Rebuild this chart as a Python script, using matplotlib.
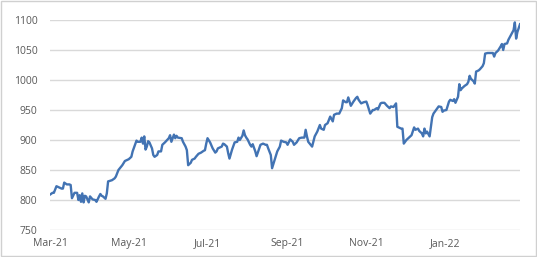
import matplotlib
matplotlib.use("Agg")
import matplotlib.pyplot as plt
import matplotlib.dates as mdates
import pandas as pd
from matplotlib.patches import Rectangle

start_date = "2021-03-01"
end_date = "2022-02-28"

day_offsets = [
    0, 2, 3, 5, 7, 9, 10, 11, 13, 15, 16, 17, 19, 21, 22, 23, 24, 25, 26, 27,
    28, 30, 31, 33, 35, 36, 38, 39, 40, 41, 43, 44, 45, 48, 50, 51, 53, 56, 58, 61,
    63, 64, 67, 68, 70, 71, 72, 73, 74, 75, 76, 77, 79, 80, 81, 83, 84, 86, 87, 89,
    92, 93, 94, 96, 97, 98, 99, 102, 103, 105, 106, 107, 109, 110, 112, 113, 115, 117, 119, 120,
    121, 122, 124, 126, 128, 129, 130, 133, 134, 135, 137, 138, 139, 141, 143, 145, 146, 147, 149, 150,
    151, 152, 153, 155, 156, 157, 159, 160, 162, 163, 165, 167,
    168, 169, 171, 172, 174, 176, 178, 179, 181, 183, 184, 186, 188, 189, 191, 193, 195, 197, 198, 199,
    200, 203, 205, 207, 209, 210, 212, 213, 215, 217, 219, 220, 222, 224, 226, 227, 229, 230, 231, 233,
    235, 237, 238, 239, 241, 243, 245, 246, 248, 250, 251, 253, 254, 256, 257, 259, 261, 263, 264, 266,
    268, 269, 272, 273, 274, 276, 278, 280, 282, 283, 285, 286, 288, 289, 290, 291, 292, 294, 296, 297,
    300, 301, 303, 304, 305, 307, 309, 310, 312, 313, 314, 316, 317, 318, 319, 321, 323, 324, 325, 326,
    328, 329, 330, 332, 333, 335, 336, 337, 339, 341, 343, 344, 345, 347, 349, 350, 351, 352, 354, 355,
    357, 359, 360, 361, 362, 364,
]

values = [
    809, 812, 812, 823, 821, 819, 819, 829, 826, 826, 825, 803, 812, 812, 800, 808, 797, 811, 796, 807,
    806, 796, 806, 801, 800, 797, 806, 810, 807, 806, 802, 811, 831, 833, 836, 839, 850, 858, 865, 868,
    872, 881, 899, 897, 897, 904, 894, 906, 884, 889, 898, 896, 886, 875, 872, 875, 881, 881, 892, 896,
    903, 908, 897, 909, 903, 907, 904, 903, 897, 889, 883, 858, 862, 867, 869, 872, 877, 879, 882, 883,
    894, 903, 896, 886, 879, 881, 886, 889, 894, 893, 889, 878, 869, 884, 896, 897, 904, 900, 907, 916,
    908, 904, 901, 892, 889, 893, 881, 873, 886, 892, 894, 892,
    892, 886, 875, 853, 867, 881, 889, 899, 897, 896, 892, 901, 897, 892, 896, 903, 904, 904, 917, 906,
    897, 889, 906, 914, 925, 919, 917, 925, 928, 939, 931, 942, 944, 944, 953, 966, 963, 963, 971, 957,
    964, 970, 972, 967, 961, 963, 964, 958, 944, 950, 950, 953, 951, 961, 962, 962, 957, 953, 956, 955,
    961, 922, 919, 919, 894, 900, 904, 908, 921, 917, 919, 915, 911, 906, 919, 911, 914, 906, 938, 944,
    953, 956, 955, 947, 949, 950, 964, 967, 965, 968, 962, 972, 993, 983, 986, 990, 993, 997, 1007, 1002,
    998, 994, 1014, 1016, 1018, 1023, 1028, 1044, 1045, 1045, 1045, 1039, 1045, 1049, 1056, 1060, 1050, 1060, 1061, 1067,
    1075, 1083, 1096, 1069, 1080, 1093,
]

y_ticks = [750, 800, 850, 900, 950, 1000, 1050, 1100]

dates = pd.Timestamp(start_date) + pd.to_timedelta(day_offsets, unit="D")

plt.rcParams['font.family'] = ['Open Sans', 'DejaVu Sans']

fig = plt.figure(figsize=(5.37, 2.57), dpi=100)
ax = fig.add_axes([50/537, 27/257, 470/537, 210/257])

ax.plot(dates, values, color='#4273b3', linewidth=1.7, solid_joinstyle='round')

ax.set_ylim(750, 1100)
ax.set_yticks(y_ticks)
ax.set_xlim(pd.Timestamp(start_date), pd.Timestamp(end_date))
ax.xaxis.set_major_locator(mdates.MonthLocator(bymonth=[1, 3, 5, 7, 9, 11]))
ax.xaxis.set_major_formatter(mdates.DateFormatter('%b-%y'))

ax.grid(axis='y', color='#d9d9d9', linewidth=1.0)
ax.set_axisbelow(True)
for s in ax.spines.values():
    s.set_visible(False)
ax.tick_params(axis='both', length=0, labelsize=7.5, colors='#595959')
ax.tick_params(axis='y', pad=9)
ax.tick_params(axis='x', pad=6)

fig.patches.append(Rectangle((0.001, 0.002), 0.997, 0.995, transform=fig.transFigure,
                             fill=False, edgecolor='#d0d0d0', linewidth=1.0))

fig.savefig('out.png', dpi=100)
